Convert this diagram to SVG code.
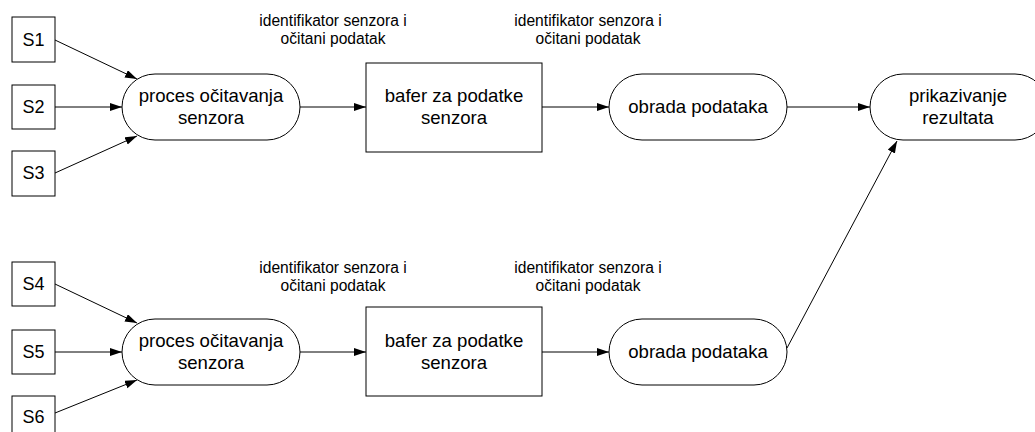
<svg xmlns="http://www.w3.org/2000/svg" width="1035" height="432" viewBox="0 0 1035 432">
<style>
.box{fill:#fff;stroke:#000;stroke-width:1}
.t{font-family:"Liberation Sans",Arial,sans-serif;fill:#000;text-anchor:middle}
.n{font-size:18.6px}
.s{font-size:18px}
.l{font-size:15.6px}
.c{stroke:#000;stroke-width:1;fill:none;marker-end:url(#ah)}
</style>
<defs>
<marker id="ah" markerUnits="userSpaceOnUse" markerWidth="13" markerHeight="9" refX="12" refY="4" orient="auto">
<path d="M0,0 L12,4 L0,8 z" fill="#000"/>
</marker>
</defs>
<rect width="1035" height="432" fill="#fff"/>
<g id="connectors">
<line class="c" x1="55" y1="40" x2="137" y2="79"/>
<line class="c" x1="55" y1="107" x2="122" y2="107"/>
<line class="c" x1="55" y1="173" x2="137" y2="136"/>
<line class="c" x1="300" y1="107" x2="366" y2="107"/>
<line class="c" x1="542" y1="107" x2="609" y2="107"/>
<line class="c" x1="787" y1="107" x2="870" y2="107"/>
<line class="c" x1="55" y1="284" x2="137" y2="323"/>
<line class="c" x1="55" y1="352" x2="122" y2="352"/>
<line class="c" x1="55" y1="413" x2="137" y2="380"/>
<line class="c" x1="300" y1="352" x2="366" y2="352"/>
<line class="c" x1="542" y1="352" x2="609" y2="352"/>
<line class="c" x1="787" y1="348" x2="897" y2="141"/>
</g>
<g id="S1"><rect class="box" x="12" y="17" width="43" height="45"/><text class="t s" x="33.5" y="46">S1</text></g>
<g id="S2"><rect class="box" x="12" y="85" width="43" height="44"/><text class="t s" x="33.5" y="113">S2</text></g>
<g id="S3"><rect class="box" x="12" y="151" width="43" height="45"/><text class="t s" x="33.5" y="179">S3</text></g>
<g id="S4"><rect class="box" x="12" y="262" width="43" height="44"/><text class="t s" x="33.5" y="290">S4</text></g>
<g id="S5"><rect class="box" x="12" y="330" width="43" height="44"/><text class="t s" x="33.5" y="358">S5</text></g>
<g id="S6"><rect class="box" x="12" y="396" width="43" height="45"/><text class="t s" x="33.5" y="423">S6</text></g>
<g id="proces1"><rect class="box" x="122" y="74" width="178" height="66" rx="33" ry="33"/><text class="t n" x="211" y="102">proces očitavanja</text><text class="t n" x="211" y="124">senzora</text></g>
<g id="bafer1"><rect class="box" x="366" y="63" width="176" height="89"/><text class="t n" x="454" y="102">bafer za podatke</text><text class="t n" x="454" y="124">senzora</text></g>
<g id="obrada1"><rect class="box" x="609" y="74" width="178" height="66" rx="33" ry="33"/><text class="t n" x="698" y="113">obrada podataka</text></g>
<g id="prikazivanje"><rect class="box" x="870" y="74" width="178" height="66" rx="33" ry="33"/><text class="t n" x="958" y="102">prikazivanje</text><text class="t n" x="958" y="124">rezultata</text></g>
<g id="proces2"><rect class="box" x="122" y="319" width="178" height="66" rx="33" ry="33"/><text class="t n" x="211" y="347">proces očitavanja</text><text class="t n" x="211" y="369">senzora</text></g>
<g id="bafer2"><rect class="box" x="366" y="307" width="176" height="89"/><text class="t n" x="454" y="347">bafer za podatke</text><text class="t n" x="454" y="369">senzora</text></g>
<g id="obrada2"><rect class="box" x="609" y="319" width="178" height="66" rx="33" ry="33"/><text class="t n" x="698" y="358">obrada podataka</text></g>
<g id="label1"><text class="t l" x="333" y="26">identifikator senzora i</text><text class="t l" x="333" y="44">očitani podatak</text></g>
<g id="label2"><text class="t l" x="588" y="26">identifikator senzora i</text><text class="t l" x="588" y="44">očitani podatak</text></g>
<g id="label3"><text class="t l" x="333" y="273">identifikator senzora i</text><text class="t l" x="333" y="291">očitani podatak</text></g>
<g id="label4"><text class="t l" x="588" y="273">identifikator senzora i</text><text class="t l" x="588" y="291">očitani podatak</text></g>
</svg>
